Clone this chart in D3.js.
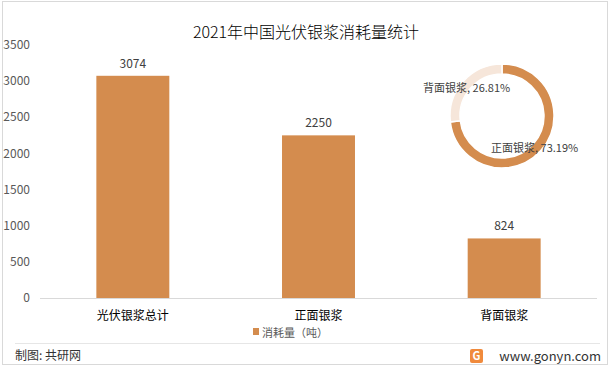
<!DOCTYPE html>
<html lang="zh">
<head>
    <meta charset="UTF-8">
    <title>2021年中国光伏银浆消耗量统计</title>
    <style>
        body { margin: 0; background: #fff; }
        svg { display: block; font-family: "Noto Sans CJK SC", "Microsoft YaHei", sans-serif; }
    </style>
</head>
<body>
    <svg id="chart" width="612" height="371"></svg>

    <script src="https://d3js.org/d3.v7.min.js"></script>
    <script>
        // data
        const categories = ["光伏银浆总计", "正面银浆", "背面银浆"];
        const values = [3074, 2250, 824];
        const yTicks = [0, 500, 1000, 1500, 2000, 2500, 3000, 3500];
        const pieLabels = ["正面银浆", "背面银浆"];
        const pieShares = [73.19, 26.81];

        const barColor = "#d48c4e";
        const pieColors = ["#d48c4e", "#f6e6da"];

        const svg = d3.select("#chart");

        // outer frame
        svg.append("rect")
            .attr("x", 2.5).attr("y", 1.5)
            .attr("width", 605).attr("height", 363)
            .attr("fill", "none")
            .attr("stroke", "#d9d9d9");

        // title
        svg.append("text")
            .attr("x", 306).attr("y", 38)
            .attr("text-anchor", "middle")
            .style("font-size", "16px")
            .style("font-weight", "300")
            .style("fill", "#000")
            .text("2021年中国光伏银浆消耗量统计");

        // scales
        const x = d3.scaleBand()
            .domain(categories)
            .range([40, 597]);

        const y = d3.scaleLinear()
            .domain([0, 3500])
            .range([298, 45]);

        const barW = x.bandwidth() * 0.393;

        // y tick labels (no axis line)
        svg.append("g")
            .selectAll("text")
            .data(yTicks)
            .join("text")
            .attr("x", 30)
            .attr("y", d => y(d))
            .attr("dy", "0.35em")
            .attr("text-anchor", "end")
            .style("font-size", "12px")
            .style("fill", "#595959")
            .text(d => d);

        // baseline
        svg.append("line")
            .attr("x1", 40).attr("x2", 597)
            .attr("y1", y(0) + 0.5).attr("y2", y(0) + 0.5)
            .attr("stroke", "#d9d9d9");

        // bars
        svg.append("g")
            .selectAll("rect")
            .data(values)
            .join("rect")
            .attr("x", (d, i) => x(categories[i]) + (x.bandwidth() - barW) / 2)
            .attr("y", d => y(d))
            .attr("width", barW)
            .attr("height", d => y(0) - y(d))
            .attr("fill", barColor);

        // value labels
        svg.append("g")
            .selectAll("text")
            .data(values)
            .join("text")
            .attr("x", (d, i) => x(categories[i]) + x.bandwidth() / 2)
            .attr("y", d => y(d) - 8)
            .attr("text-anchor", "middle")
            .style("font-size", "12px")
            .style("fill", "#404040")
            .text(d => d);

        // category labels
        svg.append("g")
            .selectAll("text")
            .data(categories)
            .join("text")
            .attr("x", d => x(d) + x.bandwidth() / 2)
            .attr("y", 320)
            .attr("text-anchor", "middle")
            .style("font-size", "12px")
            .style("fill", "#000")
            .text(d => d);

        // legend
        svg.append("rect")
            .attr("x", 253).attr("y", 328)
            .attr("width", 6).attr("height", 7)
            .attr("fill", barColor);
        svg.append("text")
            .attr("x", 262).attr("y", 337)
            .style("font-size", "11px")
            .style("fill", "#595959")
            .text("消耗量（吨）");

        // donut
        const pieData = pieShares.map((v, i) => ({ name: pieLabels[i], value: v }));
        const pie = d3.pie().sort(null).value(d => d.value);
        const arc = d3.arc().innerRadius(42).outerRadius(52);
        const donut = svg.append("g").attr("transform", "translate(502,116)");

        donut.selectAll("path")
            .data(pie(pieData))
            .join("path")
            .attr("d", arc)
            .attr("fill", (d, i) => pieColors[i])
            .attr("stroke", "#fff")
            .attr("stroke-width", 1.5);

        const pieLabelPos = [[491, 152], [423, 92]];
        svg.append("g")
            .selectAll("text")
            .data(pieData)
            .join("text")
            .attr("x", (d, i) => pieLabelPos[i][0])
            .attr("y", (d, i) => pieLabelPos[i][1])
            .style("font-size", "11px")
            .style("fill", "#404040")
            .text(d => `${d.name}, ${d.value.toFixed(2)}%`);

        // footer
        svg.append("line")
            .attr("x1", 15).attr("x2", 600)
            .attr("y1", 343.5).attr("y2", 343.5)
            .attr("stroke", "#e6e6e6");

        svg.append("text")
            .attr("x", 15).attr("y", 360)
            .style("font-size", "12px")
            .style("fill", "#333")
            .text("制图: 共研网");

        // site logo
        const logo = svg.append("g").attr("transform", "translate(470,349)");
        logo.append("rect")
            .attr("width", 13).attr("height", 14).attr("rx", 2)
            .attr("fill", "#f08a3c");
        logo.append("text")
            .attr("x", 6.5).attr("y", 11)
            .attr("text-anchor", "middle")
            .style("font-size", "11px")
            .style("font-weight", "bold")
            .style("fill", "#fff")
            .text("G");

        svg.append("text")
            .attr("x", 601).attr("y", 361)
            .attr("text-anchor", "end")
            .style("font-size", "13px")
            .style("fill", "#333")
            .text("www.gonyn.com");
    </script>
</body>
</html>
